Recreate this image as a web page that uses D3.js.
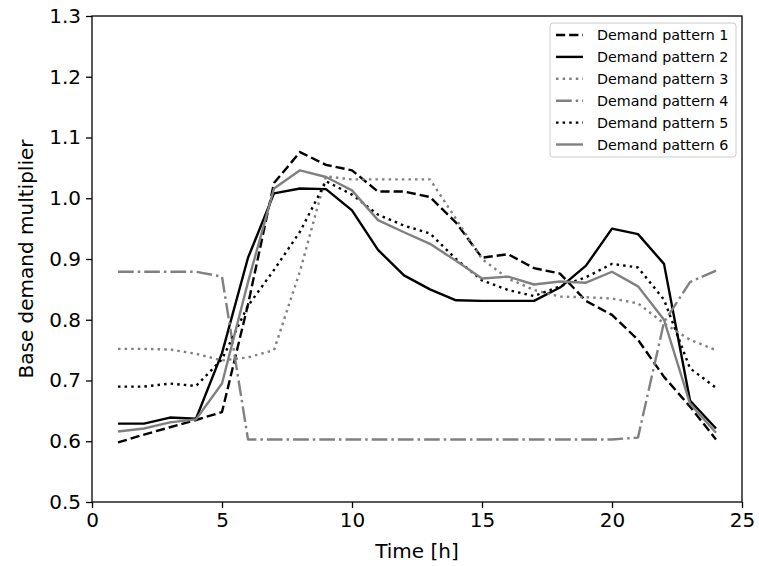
<!DOCTYPE html>
<html>
<head>
<meta charset="utf-8">
<script src="https://cdn.jsdelivr.net/npm/d3@7"></script>
<style>
  html, body { margin: 0; padding: 0; background: #fff; }
  svg { display: block; font-family: "DejaVu Sans", sans-serif; }
</style>
</head>
<body>
<svg id="chart" width="759" height="566"></svg>
<script>
const hours = [1,2,3,4,5,6,7,8,9,10,11,12,13,14,15,16,17,18,19,20,21,22,23,24];
const seriesNames = ["Demand pattern 1","Demand pattern 2","Demand pattern 3","Demand pattern 4","Demand pattern 5","Demand pattern 6"];
const pattern1 = [0.598,0.611,0.623,0.635,0.648,0.825,1.025,1.076,1.055,1.046,1.011,1.011,1.002,0.960,0.902,0.908,0.885,0.876,0.831,0.808,0.767,0.706,0.657,0.603];
const pattern2 = [0.629,0.629,0.639,0.637,0.745,0.902,1.008,1.016,1.015,0.980,0.915,0.873,0.850,0.832,0.831,0.831,0.831,0.853,0.889,0.950,0.941,0.892,0.667,0.621];
const pattern3 = [0.752,0.752,0.751,0.744,0.733,0.738,0.750,0.880,1.036,1.031,1.031,1.031,1.031,0.966,0.900,0.868,0.849,0.838,0.837,0.835,0.827,0.794,0.767,0.750];
const pattern4 = [0.879,0.879,0.879,0.879,0.871,0.603,0.603,0.603,0.603,0.603,0.603,0.603,0.603,0.603,0.603,0.603,0.603,0.603,0.603,0.603,0.606,0.796,0.862,0.881];
const pattern5 = [0.690,0.690,0.695,0.691,0.735,0.823,0.882,0.945,1.028,1.006,0.973,0.955,0.942,0.900,0.865,0.849,0.839,0.855,0.870,0.892,0.886,0.833,0.720,0.688];
const pattern6 = [0.616,0.621,0.631,0.636,0.695,0.862,1.016,1.046,1.035,1.013,0.964,0.944,0.925,0.897,0.868,0.871,0.858,0.863,0.861,0.879,0.855,0.800,0.662,0.614];
const xTicks = [0,5,10,15,20,25];
const yTicks = [0.5,0.6,0.7,0.8,0.9,1.0,1.1,1.2,1.3];
const xLabel = "Time [h]";
const yLabel = "Base demand multiplier";

const styles = [
  {color:"#000000", dash:"9.2,4"},
  {color:"#000000", dash:null},
  {color:"#808080", dash:"2.5,4.1"},
  {color:"#808080", dash:"15.7,4,2.5,4"},
  {color:"#000000", dash:"2.5,4.1"},
  {color:"#808080", dash:null}
];
const allSeries = [pattern1,pattern2,pattern3,pattern4,pattern5,pattern6];

const svg = d3.select("#chart");
const m = {left:92, top:16, right:759-742, bottom:566-502};
const W = 759 - m.left - m.right, H = 566 - m.top - m.bottom;
const x = d3.scaleLinear().domain([0,25]).range([m.left, m.left+W]);
const y = d3.scaleLinear().domain([0.5,1.3]).range([m.top+H, m.top]);

const line = d3.line().x((d,i)=>x(hours[i])).y(d=>y(d));
const g = svg.append("g");
allSeries.forEach((s,k)=>{
  g.append("path").datum(s).attr("d", line)
    .attr("fill","none").attr("stroke", styles[k].color)
    .attr("stroke-width", 2.4)
    .attr("stroke-dasharray", styles[k].dash)
    .attr("stroke-linejoin","round");
});

// axes
const xAxis = d3.axisBottom(x).tickValues(xTicks).tickFormat(d3.format("d")).tickSize(6).tickPadding(5);
const yAxis = d3.axisLeft(y).tickValues(yTicks).tickFormat(d3.format(".1f")).tickSize(6).tickPadding(5);
const gx = svg.append("g").attr("transform",`translate(0,${m.top+H})`).call(xAxis);
const gy = svg.append("g").attr("transform",`translate(${m.left},0)`).call(yAxis);
[gx,gy].forEach(a=>{
  a.selectAll("text").attr("font-size", 20).attr("font-family","DejaVu Sans").attr("fill","#000");
  a.selectAll("line").attr("stroke","#000").attr("stroke-width",1.3);
  a.select(".domain").remove();
});
// frame
svg.append("rect").attr("x",m.left).attr("y",m.top).attr("width",W).attr("height",H)
  .attr("fill","none").attr("stroke","#000").attr("stroke-width",1.3);

svg.append("text").attr("x", m.left+W/2).attr("y", 558).attr("text-anchor","middle")
  .attr("font-size",20).text(xLabel);
svg.append("text").attr("transform",`translate(33,${m.top+H/2}) rotate(-90)`).attr("text-anchor","middle")
  .attr("font-size",20).text(yLabel);

// legend
const lg = svg.append("g");
lg.append("rect").attr("x",550).attr("y",23).attr("width",186).attr("height",134).attr("rx",3)
  .attr("fill","#fff").attr("fill-opacity",0.8).attr("stroke","#cccccc").attr("stroke-width",1);
seriesNames.forEach((n,k)=>{
  const cy = 35 + k*21.9;
  lg.append("line").attr("x1",556).attr("x2",583).attr("y1",cy).attr("y2",cy)
    .attr("stroke",styles[k].color).attr("stroke-width",2.4).attr("stroke-dasharray",styles[k].dash);
  lg.append("text").attr("x",597).attr("y",cy).attr("dy","0.35em").attr("font-size",14.3).text(n);
});
</script>
</body>
</html>
